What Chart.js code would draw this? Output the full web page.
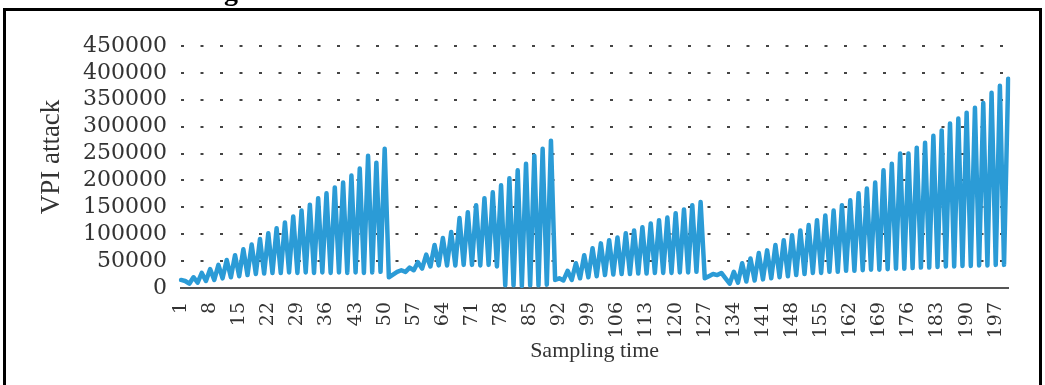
<!DOCTYPE html>
<html>
<head>
<meta charset="utf-8">
<script src="https://cdn.jsdelivr.net/npm/chart.js@4.4.1/dist/chart.umd.min.js"></script>
<style>
  html, body { margin: 0; padding: 0; background: #fff; }
  #wrap { position: relative; width: 1045px; height: 385px; overflow: hidden; }
  #frame {
    position: absolute; left: 3px; top: 8px; width: 1039px; height: 400px;
    box-sizing: border-box; border: 3px solid #000; border-bottom: none;
    pointer-events: none;
  }
  #cut {
    position: absolute; left: 224px; top: -23px;
    font: bold 28px "Liberation Serif", serif; line-height: 1; color: #000;
  }
</style>
</head>
<body>
<div id="wrap">
  <canvas id="vpiChart" width="1045" height="385"></canvas>
  <div id="frame"></div>
  <div id="cut">g</div>
</div>
<script>
// 采样时刻 1..200
const samplingTime = Array.from({ length: 200 }, (_, i) => i + 1);
// x 轴只显示这些刻度
const shownTicks = [1, 8, 15, 22, 29, 36, 43, 50, 57, 64, 71, 78, 85, 92, 99, 106,
  113, 120, 127, 134, 141, 148, 155, 162, 169, 176, 183, 190, 197];
// y 轴刻度
const yTicks = [0, 50000, 100000, 150000, 200000, 250000, 300000, 350000, 400000, 450000];

// VPI attack, 按段读图 (第 1-51, 52-91, 92-127, 128-135, 136-200 个采样点)
const attackCycle1 = [15000, 13000, 8000, 20000, 10000, 28000, 13000, 35000, 15000, 43000,
  18000, 52000, 20000, 61000, 22000, 72000, 24000, 81000, 26000, 91000,
  27000, 102000, 28000, 111000, 28000, 122000, 29000, 133000, 28000, 144000,
  29000, 155000, 28000, 167000, 29000, 176000, 28000, 187000, 29000, 196000,
  28000, 209000, 29000, 222000, 28000, 246000, 29000, 233000, 30000, 259000, 20000];
const attackCycle2 = [25000, 30000, 33000, 30000, 38000, 33000, 48000, 36000, 62000, 40000,
  80000, 42000, 93000, 42000, 104000, 42000, 130000, 43000, 141000, 43000,
  154000, 42000, 167000, 43000, 178000, 40000, 191000, 5000, 204000, 5000,
  219000, 4000, 231000, 5000, 246000, 5000, 259000, 6000, 274000, 15000];
const attackCycle3 = [18000, 14000, 32000, 15000, 46000, 18000, 61000, 20000, 74000, 22000,
  83000, 24000, 89000, 25000, 94000, 26000, 102000, 26000, 107000, 27000,
  113000, 27000, 120000, 28000, 126000, 28000, 131000, 28000, 139000, 29000,
  146000, 29000, 154000, 30000, 160000, 18000];
const attackPause = [22000, 26000, 24000, 28000, 18000, 8000, 30000, 10000];
const attackCycle4 = [46000, 12000, 55000, 14000, 65000, 16000, 70000, 18000, 80000, 20000,
  89000, 22000, 98000, 24000, 107000, 26000, 117000, 28000, 126000, 28000,
  135000, 30000, 144000, 30000, 154000, 32000, 163000, 32000, 176000, 33000,
  185000, 34000, 196000, 34000, 219000, 35000, 231000, 36000, 250000, 36000,
  250000, 37000, 261000, 38000, 270000, 38000, 283000, 39000, 293000, 40000,
  306000, 40000, 315000, 41000, 326000, 41000, 335000, 42000, 344000, 42000,
  363000, 43000, 376000, 43000, 389000];

const vpiAttack = [].concat(attackCycle1, attackCycle2, attackCycle3, attackPause, attackCycle4);

// y 轴标题, 比绘图区中心略高
const yTitlePlugin = {
  id: 'yTitle',
  afterDraw(chart) {
    const c = chart.ctx;
    c.save();
    c.translate(52, 157);
    c.rotate(-Math.PI / 2);
    c.font = '27px "Liberation Serif"';
    c.fillStyle = '#333';
    c.textAlign = 'center';
    c.textBaseline = 'middle';
    c.fillText('VPI attack', 0, 0);
    c.restore();
  }
};

const ctx = document.getElementById('vpiChart').getContext('2d');

new Chart(ctx, {
  type: 'line',
  data: {
    labels: samplingTime,
    datasets: [{
      label: 'VPI attack',
      data: vpiAttack,
      borderColor: '#2b9bd6',
      backgroundColor: '#2b9bd6',
      borderWidth: 4.5,
      borderJoinStyle: 'round',
      borderCapStyle: 'round',
      pointRadius: 0,
      tension: 0,
      fill: false
    }]
  },
  options: {
    responsive: false,
    animation: false,
    layout: {
      padding: { left: 38, top: 46, right: 30, bottom: 21 }
    },
    scales: {
      x: {
        offset: false,
        grid: { display: false, drawTicks: false },
        border: { display: true, color: '#555', width: 2 },
        ticks: {
          autoSkip: false,
          minRotation: 90,
          maxRotation: 90,
          padding: 14,
          color: '#333',
          font: { family: 'DejaVu Serif', size: 19 },
          callback: function (value) {
            const t = samplingTime[value];
            return shownTicks.includes(t) ? String(t) : '';
          }
        },
        title: {
          display: true,
          text: 'Sampling time',
          color: '#333',
          padding: 0,
          font: { family: 'Liberation Serif', size: 22 }
        },
        afterFit: function (scale) { scale.height = 76; }
      },
      y: {
        min: 0,
        max: 450000,
        afterBuildTicks: function (scale) {
          scale.ticks = yTicks.map(v => ({ value: v }));
        },
        ticks: {
          autoSkip: false,
          padding: 14,
          color: '#333',
          font: { family: 'DejaVu Serif', size: 22 },
          callback: function (value) { return String(value); }
        },
        grid: {
          color: '#444',
          lineWidth: 2,
          drawTicks: false
        },
        border: { display: false, dash: [3, 16.5] },
        afterFit: function (scale) { scale.width = 143; }
      }
    },
    plugins: {
      legend: { display: false },
      tooltip: { enabled: false }
    }
  },
  plugins: [yTitlePlugin]
});
</script>
</body>
</html>
